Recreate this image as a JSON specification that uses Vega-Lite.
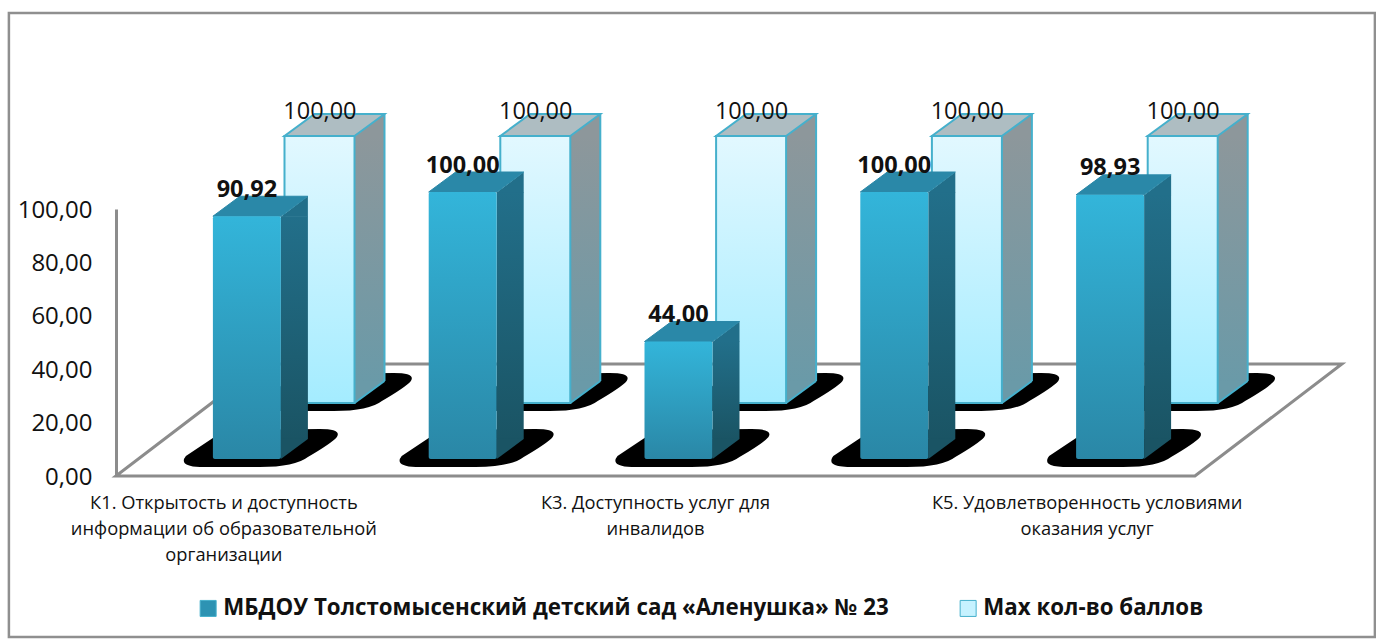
{
"$schema":"https://vega.github.io/schema/vega-lite/v6.json",
"autosize":"none",
"padding":{"left":116,"top":209,"right":181,"bottom":163},
"width":1079,"height":267,
"background":"white",
"config":{"view":{"stroke":null},"locale":{"number":{"decimal":",","thousands":" ","grouping":[3],"currency":["",""]}},"font":"Open Sans"},
"data":{"values":[
{"cat":"К1. Открытость и доступность информации об образовательной организации","series":"МБДОУ Толстомысенский детский сад «Аленушка» № 23","value":90.92},
{"cat":"К2. Комфортность условий предоставления услуг","series":"МБДОУ Толстомысенский детский сад «Аленушка» № 23","value":100},
{"cat":"К3. Доступность услуг для инвалидов","series":"МБДОУ Толстомысенский детский сад «Аленушка» № 23","value":44},
{"cat":"К4. Доброжелательность, вежливость работников","series":"МБДОУ Толстомысенский детский сад «Аленушка» № 23","value":100},
{"cat":"К5. Удовлетворенность условиями оказания услуг","series":"МБДОУ Толстомысенский детский сад «Аленушка» № 23","value":98.93},
{"cat":"К1. Открытость и доступность информации об образовательной организации","series":"Мах кол-во баллов","value":100},
{"cat":"К2. Комфортность условий предоставления услуг","series":"Мах кол-во баллов","value":100},
{"cat":"К3. Доступность услуг для инвалидов","series":"Мах кол-во баллов","value":100},
{"cat":"К4. Доброжелательность, вежливость работников","series":"Мах кол-во баллов","value":100},
{"cat":"К5. Удовлетворенность условиями оказания услуг","series":"Мах кол-во баллов","value":100}
]},
"encoding":{
"x":{"field":"cat","type":"nominal","sort":null,"title":null,"scale":{"paddingInner":0,"paddingOuter":0},
 "axis":{"domain":false,"ticks":false,"labelAngle":0,"labelAlign":"center","labelBaseline":"middle","labelFont":"Open Sans","labelFontSize":18.3,"labelColor":"#111111","labelLineHeight":26,"labelPadding":27,"labelLimit":0,"labelOverlap":false,
 "labelExpr":"indexof(datum.label,'К1')==0?['К1. Открытость и доступность','информации об образовательной','организации']:indexof(datum.label,'К3')==0?['К3. Доступность услуг для','инвалидов']:indexof(datum.label,'К5')==0?['К5. Удовлетворенность условиями','оказания услуг']:''"}},
"y":{"field":"value","type":"quantitative","stack":null,"title":null,"scale":{"domain":[0,100],"nice":false},
 "axis":{"values":[0,20,40,60,80,100],"format":".2f","grid":false,"ticks":false,"domainColor":"#8c8c8c","domainWidth":3,"labelFont":"Open Sans","labelFontSize":24,"labelColor":"#111111","labelPadding":24,"labelOffset":1,"zindex":1}}
},
"layer":[
{"transform":[{"filter":"indexof(datum.cat,'К1')==0 && datum.value==100"}],
 "encoding":{"y":{"datum":0,"type":"quantitative"}},
 "mark":{"type":"point","size":4,"filled":false,"opacity":1,"stroke":"#8f8f8f","strokeWidth":2.5,"shape":"M-215,-463L1151,-463L1151,161L-215,161Z"}},
{"transform":[{"filter":"indexof(datum.cat,'К1')==0 && datum.value==100"}],
 "encoding":{"y":{"datum":0,"type":"quantitative"}},
 "mark":{"type":"point","size":4,"filled":true,"opacity":1,"fill":"white","stroke":"#8c8c8c","strokeWidth":3,"shape":"M-108,0L971,0L1118,-112L39,-112Z"}},
{"encoding":{"y":{"datum":0,"type":"quantitative"},
  "color":{"field":"series","type":"nominal","title":null,"scale":{"domain":["МБДОУ Толстомысенский детский сад «Аленушка» № 23","Мах кол-во баллов"],"range":["#2d93b3","#c6f2ff"]},
   "legend":{"orient":"none","legendX":81,"legendY":388,"direction":"horizontal","title":null,"symbolType":"square","symbolSize":256,"symbolOpacity":1,"symbolStrokeColor":"#45b0cc","symbolStrokeWidth":1,"labelFont":"Open Sans","labelFontSize":22.3,"labelFontWeight":"bold","labelColor":"#111111","labelLimit":0,"labelOffset":4,"columnPadding":68}}},
 "mark":{"type":"point","size":0,"filled":true,"opacity":1}},
{"transform":[{"filter":{"field":"series","equal":"МБДОУ Толстомысенский детский сад «Аленушка» № 23"}}],
 "encoding":{"y":{"datum":0,"type":"quantitative"}},
 "mark":{"type":"point","size":4,"filled":true,"opacity":1,"fill":"black","xOffset":0,"yOffset":0,"shape":"M-38,-20L1,-46L96,-47Q118,-47 113,-39Q108,-33 84,-19Q71,-9 36,-9L-24,-9Q-46,-10 -38,-20Z"}},
{"transform":[{"filter":{"field":"series","equal":"Мах кол-во баллов"}}],
 "encoding":{"y":{"datum":0,"type":"quantitative"}},
 "mark":{"type":"point","size":4,"filled":true,"opacity":1,"fill":"black","xOffset":74,"yOffset":-56,"shape":"M-38,-20L1,-46L96,-47Q118,-47 113,-39Q108,-33 84,-19Q71,-9 36,-9L-24,-9Q-46,-10 -38,-20Z"}},
{"transform":[{"filter":{"field":"series","equal":"Мах кол-во баллов"}}],
 "encoding":{"y2":{"datum":0}},
 "mark":{"type":"bar","width":30,"xOffset":145.6,"yOffset":-73,"y2Offset":-95,"fill":{"gradient":"linear","x1":0,"y1":0,"x2":0,"y2":1,"stops":[{"offset":0,"color":"#8d979b"},{"offset":1,"color":"#6a9aa8"}]}}},
{"transform":[{"filter":{"field":"series","equal":"Мах кол-во баллов"}}],
 "mark":{"type":"point","size":4,"filled":true,"opacity":1,"fill":"#8d979b","shape":"M130.6,-72.5L160.6,-95L160.6,-72.5Z"}},
{"transform":[{"filter":{"field":"series","equal":"Мах кол-во баллов"}}],
 "encoding":{"y":{"datum":0,"type":"quantitative"}},
 "mark":{"type":"point","size":4,"filled":true,"opacity":1,"fill":"#6a9aa8","shape":"M130.6,-73L160.6,-95L130.6,-95.5Z"}},
{"transform":[{"filter":{"field":"series","equal":"Мах кол-во баллов"}}],
 "encoding":{"y":{"datum":0,"type":"quantitative"}},
 "mark":{"type":"point","size":4,"filled":false,"opacity":1,"stroke":"#45b0cc","strokeWidth":2,"shape":"M130.6,-73L160.6,-95"}},
{"transform":[{"filter":{"field":"series","equal":"Мах кол-во баллов"}}],
 "encoding":{"y2":{"datum":0}},
 "mark":{"type":"rule","xOffset":160.6,"yOffset":-95,"y2Offset":-95,"stroke":"#45b0cc","strokeWidth":2}},
{"transform":[{"filter":{"field":"series","equal":"Мах кол-во баллов"}}],
 "mark":{"type":"point","size":4,"filled":true,"opacity":1,"fill":"#aebdc2","stroke":"#45b0cc","strokeWidth":2,"shape":"M60.6,-73L130.6,-73L160.6,-95L90.6,-95Z"}},
{"transform":[{"filter":{"field":"series","equal":"Мах кол-во баллов"}}],
 "encoding":{"y2":{"datum":0}},
 "mark":{"type":"bar","width":70,"xOffset":95.6,"yOffset":-73,"y2Offset":-73,"stroke":"#45b0cc","strokeWidth":2,"fill":{"gradient":"linear","x1":0,"y1":0,"x2":0,"y2":1,"stops":[{"offset":0,"color":"#e2f8ff"},{"offset":1,"color":"#a4ecff"}]}}},
{"transform":[{"filter":{"field":"series","equal":"Мах кол-во баллов"}}],
 "encoding":{"text":{"field":"value","type":"quantitative","format":".2f"}},
 "mark":{"type":"text","font":"Open Sans","fontSize":23.5,"color":"#111111","xOffset":96,"yOffset":-97.5,"baseline":"middle"}},
{"transform":[{"filter":{"field":"series","equal":"МБДОУ Толстомысенский детский сад «Аленушка» № 23"}}],
 "encoding":{"y2":{"datum":0}},
 "mark":{"type":"bar","width":27,"xOffset":70.5,"yOffset":-17,"y2Offset":-37,"fill":{"gradient":"linear","x1":0,"y1":0,"x2":0,"y2":1,"stops":[{"offset":0,"color":"#226f8a"},{"offset":1,"color":"#1a5464"}]}}},
{"transform":[{"filter":{"field":"series","equal":"МБДОУ Толстомысенский детский сад «Аленушка» № 23"}}],
 "mark":{"type":"point","size":4,"filled":true,"opacity":1,"fill":"#226f8a","shape":"M57,-16.5L84,-37L84,-16.5Z"}},
{"transform":[{"filter":{"field":"series","equal":"МБДОУ Толстомысенский детский сад «Аленушка» № 23"}}],
 "encoding":{"y":{"datum":0,"type":"quantitative"}},
 "mark":{"type":"point","size":4,"filled":true,"opacity":1,"fill":"#1a5464","shape":"M57,-17L84,-37L57,-37.5Z"}},
{"transform":[{"filter":{"field":"series","equal":"МБДОУ Толстомысенский детский сад «Аленушка» № 23"}}],
 "mark":{"type":"point","size":4,"filled":true,"opacity":1,"fill":"#2a88a8","stroke":"#2a88a8","strokeWidth":1,"shape":"M-11,-17L57,-17L84,-37L16,-37Z"}},
{"transform":[{"filter":{"field":"series","equal":"МБДОУ Толстомысенский детский сад «Аленушка» № 23"}}],
 "encoding":{"y2":{"datum":0}},
 "mark":{"type":"bar","width":68,"xOffset":23,"yOffset":-17,"y2Offset":-17,"cornerRadius":2,"fill":{"gradient":"linear","x1":0,"y1":0,"x2":0,"y2":1,"stops":[{"offset":0,"color":"#33b5da"},{"offset":1,"color":"#2a87a6"}]}}},
{"transform":[{"filter":{"field":"series","equal":"МБДОУ Толстомысенский детский сад «Аленушка» № 23"}}],
 "encoding":{"text":{"field":"value","type":"quantitative","format":".2f"}},
 "mark":{"type":"text","font":"Open Sans","fontSize":23.5,"fontWeight":"bold","color":"#111111","xOffset":23,"yOffset":-43.5,"baseline":"middle"}}
]
}
